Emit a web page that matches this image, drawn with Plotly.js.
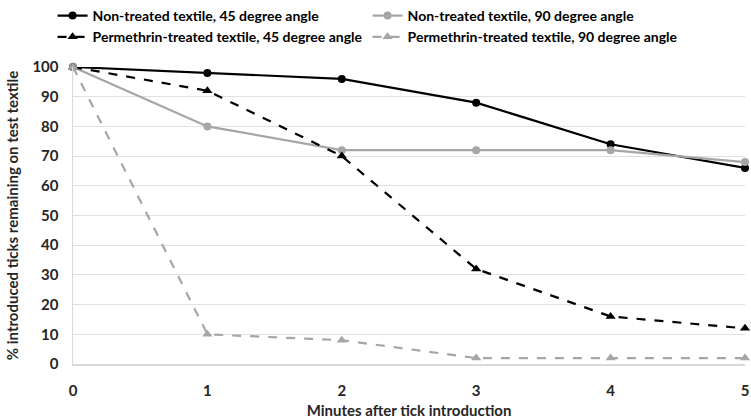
<!DOCTYPE html>
<html><head><meta charset="utf-8">
<script src="https://cdn.plot.ly/plotly-3.0.1.min.js"></script>
<style>html,body{margin:0;padding:0;background:#fff}#chart{width:751px;height:419px}</style>
</head><body><div id="chart"></div>
<script>
const minutes = [0, 1, 2, 3, 4, 5];
const nonTreated45 = [100, 98, 96, 88, 74, 66];
const nonTreated90 = [100, 80, 72, 72, 72, 68];
const permethrin45 = [100, 92, 70, 32, 16, 12];
const permethrin90 = [100, 10, 8, 2, 2, 2];
const seriesNames = [
  "Non-treated textile, 45 degree angle",
  "Non-treated textile, 90 degree angle",
  "Permethrin-treated textile, 45 degree angle",
  "Permethrin-treated textile, 90 degree angle"
];
const black = "#000000", gray = "#a6a6a6";
const traces = [
  {x: minutes, y: nonTreated45, name: seriesNames[0], mode: "lines+markers",
   line: {color: black, width: 2.2}, marker: {symbol: "circle", size: 8, color: black}},
  {x: minutes, y: nonTreated90, name: seriesNames[1], mode: "lines+markers",
   line: {color: gray, width: 2.2}, marker: {symbol: "circle", size: 8, color: gray}},
  {x: minutes, y: permethrin45, name: seriesNames[2], mode: "lines+markers",
   line: {color: black, width: 2.2, dash: "dash"}, marker: {symbol: "triangle-up", size: 9, color: black}},
  {x: minutes, y: permethrin90, name: seriesNames[3], mode: "lines+markers",
   line: {color: gray, width: 2.2, dash: "dash"}, marker: {symbol: "triangle-up", size: 9, color: gray}}
];
traces.forEach(t => t.cliponaxis = false);
const font = {family: "Lato, 'Open Sans', sans-serif", size: 14, color: "#262626", weight: "bold"};
const layout = {
  width: 751, height: 419,
  margin: {l: 73, r: 6, t: 67, b: 55},
  paper_bgcolor: "#fff", plot_bgcolor: "#fff",
  font: font,
  showlegend: true,
  legend: {orientation: "h", x: 0.07, xref: "container", xanchor: "left",
    y: 1.0, yref: "container", yanchor: "top", entrywidth: 270, tracegroupgap: 0,
    bgcolor: "rgba(0,0,0,0)",
    font: {family: font.family, size: 14, color: "#000", weight: "bold"}, itemwidth: 30},
  xaxis: {range: [0, 5], tickvals: minutes, showgrid: false, zeroline: false,
    showline: true, linecolor: "#d9d9d9", linewidth: 1.5, ticks: "", ticklen: 0,
    tickfont: {size: 15}, ticklabelstandoff: 12,
    title: {text: "Minutes after tick introduction", standoff: 14, font: {size: 15}}},
  yaxis: {range: [0, 100], dtick: 10, showgrid: true, gridcolor: "#e0e0e0", gridwidth: 1,
    zeroline: false, showline: true, linecolor: "#d9d9d9", linewidth: 1.5,
    tickfont: {size: 15}, ticklabelstandoff: 10,
    title: {text: "% introduced ticks remaining on test textile", standoff: 10, font: {size: 15}}}
};
Plotly.newPlot("chart", traces, layout, {displayModeBar: false, staticPlot: true});
</script></body></html>
